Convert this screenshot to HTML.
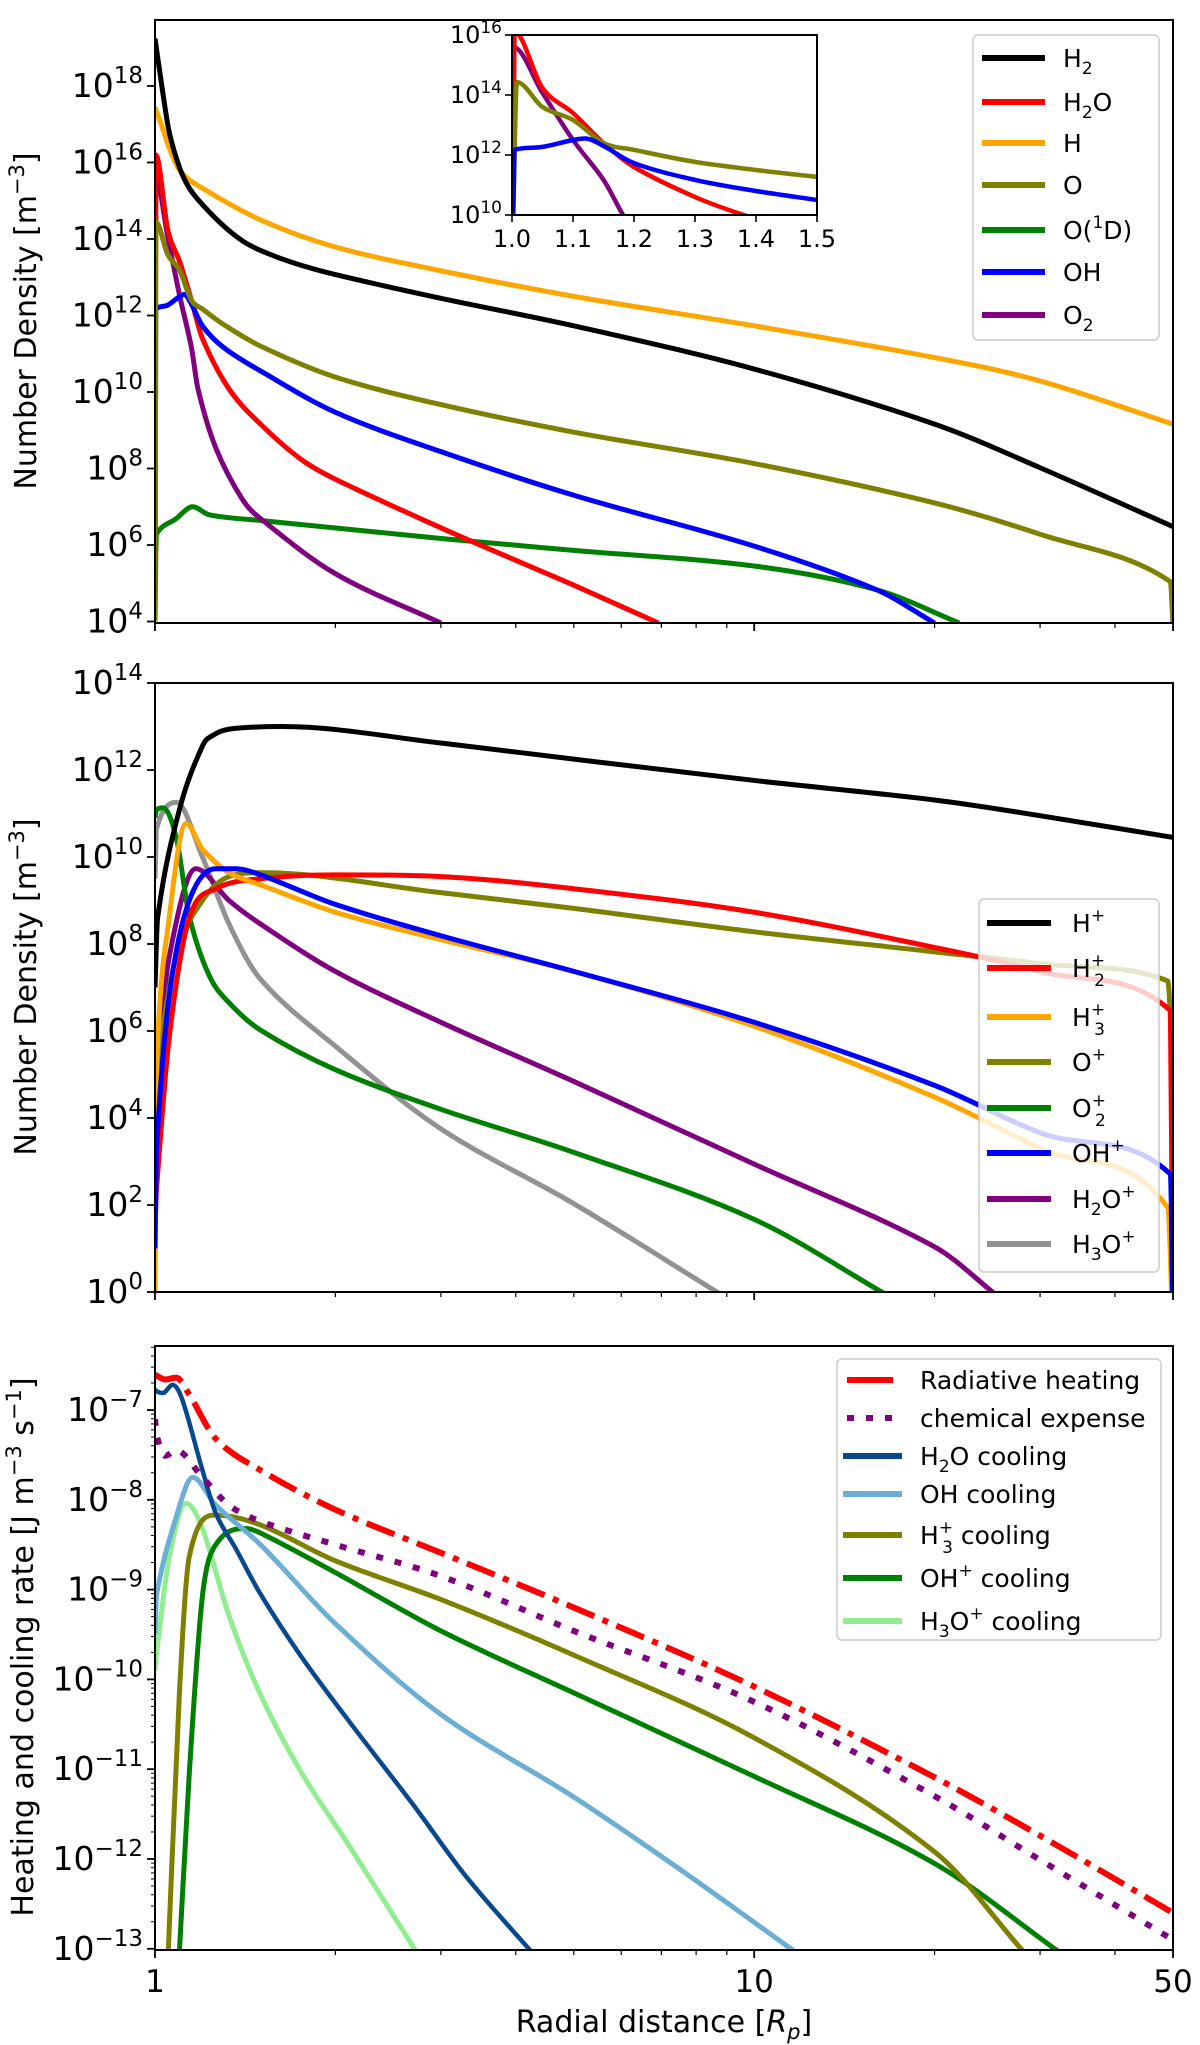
<!DOCTYPE html>
<html><head><meta charset="utf-8"><style>
html,body{margin:0;padding:0;background:#fff;}
svg{display:block;font-family:"DejaVu Sans","Liberation Sans",sans-serif;}
</style></head><body>
<svg id="fig" width="1200" height="2045" viewBox="0 0 1200 2045" xmlns="http://www.w3.org/2000/svg">
<defs>
<clipPath id="c1"><rect x="155" y="20" width="1018" height="603"/></clipPath>
<clipPath id="c2"><rect x="155" y="683" width="1018" height="609"/></clipPath>
<clipPath id="c3"><rect x="155" y="1346" width="1018" height="604"/></clipPath>
<clipPath id="ci"><rect x="512" y="35" width="305" height="180"/></clipPath>
</defs>
<g id="g1"></g>
<g id="g2"></g>
<g id="g3"></g>
</svg>
<script>
// ---------- Panel 1: neutral species (log10 number density, m^-3) ----------
const rH2 = [1,1.031,1.057,1.1,1.141,1.2,1.3,1.4,1.5,1.7,2,3,5,10,20,30,50];
const logH2 = [19.24,17.8,16.77,15.85,15.33,14.9,14.35,13.95,13.7,13.38,13.07,12.45,11.73,10.6,9.16,8.02,6.48];
const rH = [1,1.031,1.057,1.1,1.17,1.5,2,3,5,10,20,30,50];
const logH = [17.44,16.87,16.36,15.79,15.43,14.5,13.79,13.17,12.5,11.73,10.9,10.29,9.16];
const rH2O = [1,1.003,1.05,1.1,1.15,1.2,1.329,1.5,1.756,2,3,4,5,6.92];
const logH2O = [4,16.2,14.25,13.4,12.4,11.4,10.08,9.16,8.23,7.72,6.45,5.6,4.95,3.96];
const rO = [1,1.003,1.05,1.1,1.15,1.2,1.3,1.5,2,3,5,10,20,30,49.5,50];
const logO = [4,14.45,13.6,13.17,12.4,12.17,11.77,11.2,10.39,9.67,8.95,8.13,7.1,6.28,5.04,3.9];
const rO1D = [1,1.003,1.005,1.085,1.156,1.231,1.5,3,5,10,16,22];
const logO1D = [4,5.8,6.28,6.69,7.0,6.79,6.64,6.17,5.86,5.45,4.83,3.96];
const rOH = [1,1.003,1.05,1.1,1.12,1.15,1.2,1.3,1.5,2,3,5,10,16,20];
const logOH = [4,12.17,12.27,12.5,12.55,12.3,11.73,11.17,10.55,9.47,8.44,7.3,5.97,4.83,3.96];
const rO2 = [1,1.003,1.05,1.1,1.15,1.18,1.263,1.398,1.5,2,3];
const logO2 = [4,15.6,14.07,12.5,11.17,10.07,8.54,7.2,6.69,5.25,3.96];
// inset (1.0 - 1.5)
const rInO = [1.002,1.008,1.05,1.1,1.15,1.2,1.3,1.4,1.5];
const logInO = [10,14.43,13.6,13.17,12.4,12.17,11.77,11.5,11.27];
const rInH2O = [1.002,1.004,1.05,1.1,1.15,1.2,1.3,1.38,1.45];
const logInH2O = [10,16.1,14.23,13.4,12.4,11.6,10.6,10.0,9.6];
const rInOH = [1.002,1.004,1.05,1.1,1.12,1.15,1.2,1.3,1.4,1.5];
const logInOH = [10,12.17,12.27,12.5,12.55,12.3,11.73,11.17,10.8,10.5];
const rInO2 = [1.001,1.002,1.05,1.1,1.15,1.18,1.2];
const logInO2 = [9,15.6,14.07,12.5,11.17,10.07,9.4];
// ---------- Panel 2: ions ----------
const rHp = [1,1.01,1.098,1.2,1.25,1.33,1.63,3,5,10,20,30,50];
const logHp = [7.0,8.6,11.08,12.55,12.8,12.94,13.0,12.62,12.25,11.76,11.31,10.95,10.45];
const rH2p = [1,1.005,1.057,1.141,1.263,1.5,2,3,5,10,20,30,49.5,50];
const logH2p = [1.5,2.3,5.9,8.6,9.27,9.5,9.59,9.55,9.27,8.73,7.92,7.37,6.47,-1];
const rH3p = [1,1.005,1.057,1.127,1.2,1.329,1.5,2,3,5,10,20,30,49,50];
const logH3p = [0,5.0,8.64,10.77,10.18,9.64,9.36,8.73,8.1,7.37,6.11,4.48,3.3,1.94,-1];
const rOp = [1,1.005,1.085,1.2,1.329,1.5,3,5,10,20,30,49,50];
const logOp = [4,5.0,7.73,9.0,9.55,9.64,9.18,8.82,8.28,7.82,7.55,7.15,4.93];
const rO2p = [1,1.005,1.031,1.085,1.141,1.231,1.329,1.5,2,3,5,10,16.8];
const logO2p = [10.9,11.08,11.13,10.45,8.64,7.28,6.65,6.02,5.11,4.2,3.21,1.67,-0.1];
const rOHp = [1,1.005,1.057,1.141,1.263,1.363,1.5,2,3,5,10,20,30,49.5,50];
const logOHp = [1,3.2,6.83,9.0,9.73,9.73,9.59,8.91,8.19,7.37,6.2,4.75,3.66,2.71,-1];
const rH2Op = [1,1.005,1.057,1.17,1.329,1.5,2,3,5,10,20,25.5];
const logH2Op = [4,5.02,7.73,9.73,9.0,8.46,7.37,6.2,4.84,2.94,1.04,-0.1];
const rH3Op = [1,1.005,1.085,1.2,1.329,1.5,2,3,5,8.9];
const logH3Op = [9.5,10.63,11.26,10.0,8.46,7.19,5.65,3.75,2.03,-0.1];
// ---------- Panel 3: heating / cooling (log10 J m^-3 s^-1) ----------
const rRad = [1,1.005,1.04,1.085,1.141,1.263,1.5,2,3,5,10,20,30,50];
const logRad = [-6.6,-6.615,-6.66,-6.64,-6.83,-7.32,-7.67,-8.11,-8.59,-9.2,-10.08,-11.09,-11.74,-12.6];
const rChem = [1,1.005,1.04,1.085,1.2,1.329,1.5,2,3,5,10,20,30,50];
const logChem = [-7.1,-7.27,-7.51,-7.45,-7.75,-8.06,-8.24,-8.5,-8.85,-9.46,-10.25,-11.3,-12.01,-12.9];
const rCH2O = [1,1.005,1.031,1.07,1.11,1.2,1.263,1.363,1.5,1.756,2.099,2.7,3.31,4.27];
const logCH2O = [-6.77,-6.79,-6.81,-6.72,-6.88,-7.67,-8.15,-8.54,-9.05,-9.75,-10.45,-11.4,-12.2,-13.05];
const rCOH = [1,1.005,1.085,1.156,1.263,1.5,2,3,5,7.46,11.8];
const logCOH = [-9.5,-9.07,-8.19,-7.75,-8.06,-8.5,-9.38,-10.39,-11.31,-12.1,-13.05];
const rCH3p = [1.052,1.098,1.141,1.263,1.5,2,3,5,10,20,28.3];
const logCH3p = [-13.05,-10.17,-8.63,-8.17,-8.28,-8.68,-9.11,-9.73,-10.65,-11.92,-13.05];
const rCOHp = [1.098,1.141,1.2,1.263,1.416,1.5,2,3,5,10,20,32.5];
const logCOHp = [-13.05,-11.04,-9.07,-8.5,-8.32,-8.37,-8.81,-9.46,-10.15,-11.08,-12.05,-13.05];
const rCH3Op = [1,1.005,1.057,1.127,1.2,1.329,1.5,1.756,2.099,2.74];
const logCH3Op = [-9.9,-9.73,-8.63,-8.04,-8.32,-9.29,-10.17,-11.04,-11.83,-13.05];
// tick values
const p1Ticks = [4,6,8,10,12,14,16,18];
const p2Ticks = [0,2,4,6,8,10,12,14];
const p3Ticks = [-13,-12,-11,-10,-9,-8,-7];
const insetYTicks = [10,12,14,16];
const insetXTicks = [1.0,1.1,1.2,1.3,1.4,1.5];
const xMajor = [1,10,50];
const xMinor = [2,3,4,5,6,7,8,9,20,30,40];

const NS = "http://www.w3.org/2000/svg";
const X0 = 155, X1 = 1173;
function xOf(r){ return X0 + Math.log10(r)/Math.log10(50)*(X1-X0); }
function y1(v){ return 86 + (18-v)*38.25; }
function y2(v){ return 683 + (14-v)*43.5; }
function y3(v){ return 1410 + (-7-v)*89.8; }
function xIn(r){ return 512 + (r-1)*610; }
function yIn(v){ return 35 + (16-v)*30; }

function mk(parent, tag, attrs){
  const e = document.createElementNS(NS, tag);
  for (const k in attrs) e.setAttribute(k, attrs[k]);
  parent.appendChild(e);
  return e;
}
function pathD(xs, ys){
  const n = xs.length;
  if (n < 2) return "";
  const d = [], m = new Array(n);
  for (let i=0;i<n-1;i++){ const h = xs[i+1]-xs[i]; d.push(h<=0?0:(ys[i+1]-ys[i])/h); }
  m[0]=d[0]; m[n-1]=d[n-2];
  for (let i=1;i<n-1;i++){
    if (d[i-1]*d[i] <= 0){ m[i]=0; continue; }
    const hx = xs[i+1]-xs[i-1];
    let t = hx>0 ? (ys[i+1]-ys[i-1])/hx : d[i];
    const lim = 3*Math.min(Math.abs(d[i-1]),Math.abs(d[i]));
    if (Math.abs(t) > lim) t = Math.sign(t)*lim;
    m[i] = t;
  }
  let s = "M"+xs[0].toFixed(2)+","+ys[0].toFixed(2);
  for (let i=0;i<n-1;i++){
    const h = xs[i+1]-xs[i];
    if (h < 1.5){ s += "L"+xs[i+1].toFixed(2)+","+ys[i+1].toFixed(2); continue; }
    const c1x = xs[i]+h/3, c1y = ys[i]+m[i]*h/3, c2x = xs[i+1]-h/3, c2y = ys[i+1]-m[i+1]*h/3;
    s += "C"+c1x.toFixed(2)+","+c1y.toFixed(2)+" "+c2x.toFixed(2)+","+c2y.toFixed(2)+" "+xs[i+1].toFixed(2)+","+ys[i+1].toFixed(2);
  }
  return s;
}
function series(g, rs, vs, fx, fy, color, w, name, dash){
  const p = mk(g, "path", {d: pathD(rs.map(fx), vs.map(fy)), fill:"none", stroke:color, "stroke-width":w, "stroke-linejoin":"round"});
  if (dash) p.setAttribute("stroke-dasharray", dash);
  
  
  return p;
}
function richText(t, parts, small){
  parts.forEach(p=>{
    if (typeof p === "string"){ const s = mk(t, "tspan", {}); s.textContent = p; }
    else {
      const a = {"font-size":small, "baseline-shift":p.s};
      if (p.dx) a.dx = p.dx;
      const s = mk(t, "tspan", a); s.textContent = p.t;
    }
  });
}
function powLabel(g, x, y, exp, size, name){
  const t = mk(g, "text", {x:x, y:y, "text-anchor":"end", "font-size":size, fill:"#000"});
  richText(t, ["10", {t:(exp<0?"\u2212"+(-exp):String(exp)), s:Math.round(size*0.42)}], Math.round(size*0.7));
  
  
  return t;
}
function frame(g, top, bottom, name){
  const r = mk(g, "rect", {x:X0, y:top, width:X1-X0, height:bottom-top, fill:"none", stroke:"#000", "stroke-width":2});
  
  
}
function xTicks(g, bottom, labels){
  xMajor.forEach(v=>{
    const x = xOf(v);
    const l = mk(g, "line", {x1:x, x2:x, y1:bottom, y2:bottom+8, stroke:"#000", "stroke-width":1.8});
    
    
    if (labels){
      const t = mk(g, "text", {x:x, y:bottom+42, "text-anchor":"middle", "font-size":31});
      t.textContent = String(v);
      
      
    }
  });
  xMinor.forEach(v=>{
    const x = xOf(v);
    const l = mk(g, "line", {x1:x, x2:x, y1:bottom, y2:bottom+5, stroke:"#000", "stroke-width":1.2});
    
    
  });
}
function yTicks(g, ticks, fy, minor, lo, hi){
  ticks.forEach(v=>{
    const y = fy(v);
    const l = mk(g, "line", {x1:X0-8, x2:X0, y1:y, y2:y, stroke:"#000", "stroke-width":1.8});
    
    
    powLabel(g, X0-12, y+11, v, 33, 'y-tick-label');
  });
  if (minor){
    for (let e=Math.floor(lo); e<hi; e++){
      for (let k=2;k<=9;k++){
        const v = e+Math.log10(k);
        if (v<lo||v>hi) continue;
        const y = fy(v);
        const l = mk(g, "line", {x1:X0-4, x2:X0, y1:y, y2:y, stroke:"#000", "stroke-width":1});
        
        
      }
    }
  }
}
function yLabel(g, cx, cy, parts, name){
  const t = mk(g, "text", {x:0, y:0, "text-anchor":"middle", "font-size":30, transform:"translate("+cx+","+cy+") rotate(-90)"});
  richText(t, parts, 21);
  
  
}
function legend(g, box, items, name){
  const lg = mk(g, "g", {});
  
  
  mk(lg, "rect", {x:box[0], y:box[1], width:box[2]-box[0], height:box[3]-box[1], rx:5, fill:"#fff", "fill-opacity":0.8, stroke:"#cccccc", "stroke-width":1.5});
  items.forEach(it=>{
    const e = mk(lg, "g", {});
    
    
    const l = mk(e, "line", {x1:it.x1, x2:it.x2, y1:it.y, y2:it.y, stroke:it.c, "stroke-width":it.w||6});
    if (it.dash) l.setAttribute("stroke-dasharray", it.dash);
    const t = mk(e, "text", {x:it.tx, y:it.y+9, "font-size":25});
    richText(t, it.parts, 17);
  });
}
const SUP = 11, SUB = -7;

// ===== Panel 1 =====
const g1 = document.getElementById("g1");
const c1 = mk(g1, "g", {"clip-path":"url(#c1)"});


series(c1, rO1D, logO1D, xOf, y1, "#008000", 5, "line-o1d");
series(c1, rO2, logO2, xOf, y1, "#800080", 5, "line-o2");
series(c1, rH2O, logH2O, xOf, y1, "#ff0000", 5, "line-h2o");
series(c1, rOH, logOH, xOf, y1, "#0000ff", 5, "line-oh");
series(c1, rO, logO, xOf, y1, "#808000", 5, "line-o");
series(c1, rH, logH, xOf, y1, "#ffa500", 5, "line-h");
series(c1, rH2, logH2, xOf, y1, "#000000", 5, "line-h2");
frame(g1, 20, 623, "panel1-frame");
yTicks(g1, p1Ticks, y1, false);
xTicks(g1, 623, false);
yLabel(g1, 36, 321, ["Number Density [m", {t:"\u22123", s:12}, "]"], "y-axis-title-1");
// inset
const gi = mk(g1, "g", {});


mk(gi, "rect", {x:512, y:35, width:305, height:180, fill:"#fff"});
const ci = mk(gi, "g", {"clip-path":"url(#ci)"});
series(ci, rInO2, logInO2, xIn, yIn, "#800080", 4.5, "inset-line-o2");
series(ci, rInH2O, logInH2O, xIn, yIn, "#ff0000", 4.5, "inset-line-h2o");
series(ci, rInO, logInO, xIn, yIn, "#808000", 4.5, "inset-line-o");
series(ci, rInOH, logInOH, xIn, yIn, "#0000ff", 4.5, "inset-line-oh");
mk(gi, "rect", {x:512, y:35, width:305, height:180, fill:"none", stroke:"#000", "stroke-width":2});
insetYTicks.forEach(v=>{
  const y = yIn(v);
  const l = mk(gi, "line", {x1:505, x2:512, y1:y, y2:y, stroke:"#000", "stroke-width":1.6});
  
  
  powLabel(gi, 502, y+8, v, 24, 'inset-y-tick-label');
});
insetXTicks.forEach(v=>{
  const x = xIn(v);
  const l = mk(gi, "line", {x1:x, x2:x, y1:215, y2:222, stroke:"#000", "stroke-width":1.6});
  
  
  const t = mk(gi, "text", {x:x, y:247, "text-anchor":"middle", "font-size":24});
  t.textContent = v.toFixed(1);
  
  
});
const L1y = [58,102,143,185,230,272,315];
legend(g1, [973,35,1159,340], [
  {c:"#000000", parts:["H",{t:"2",s:SUB}], y:L1y[0]},
  {c:"#ff0000", parts:["H",{t:"2",s:SUB},"O"], y:L1y[1]},
  {c:"#ffa500", parts:["H"], y:L1y[2]},
  {c:"#808000", parts:["O"], y:L1y[3]},
  {c:"#008000", parts:["O(",{t:"1",s:SUP},"D)"], y:L1y[4]},
  {c:"#0000ff", parts:["OH"], y:L1y[5]},
  {c:"#800080", parts:["O",{t:"2",s:SUB}], y:L1y[6]}
].map(o=>Object.assign(o,{x1:982,x2:1045,tx:1063})), "legend-neutrals");

// ===== Panel 2 =====
const g2 = document.getElementById("g2");
const c2 = mk(g2, "g", {"clip-path":"url(#c2)"});


series(c2, rH3Op, logH3Op, xOf, y2, "#929292", 5, "line-h3o-plus");
series(c2, rH2Op, logH2Op, xOf, y2, "#800080", 5, "line-h2o-plus");
series(c2, rO2p, logO2p, xOf, y2, "#008000", 5, "line-o2-plus");
series(c2, rOp, logOp, xOf, y2, "#808000", 5, "line-o-plus");
series(c2, rH2p, logH2p, xOf, y2, "#ff0000", 5, "line-h2-plus");
series(c2, rH3p, logH3p, xOf, y2, "#ffa500", 5, "line-h3-plus");
series(c2, rOHp, logOHp, xOf, y2, "#0000ff", 5, "line-oh-plus");
series(c2, rHp, logHp, xOf, y2, "#000000", 5, "line-h-plus");
frame(g2, 683, 1292, "panel2-frame");
yTicks(g2, p2Ticks, y2, false);
xTicks(g2, 1292, false);
yLabel(g2, 36, 987, ["Number Density [m", {t:"\u22123", s:12}, "]"], "y-axis-title-2");
const L2y = [923,968,1017,1062,1108,1153,1199,1244];
legend(g2, [979,899,1159,1272], [
  {c:"#000000", parts:["H",{t:"+",s:SUP}], y:L2y[0]},
  {c:"#ff0000", parts:["H",{t:"+",s:SUP},{t:"2",s:-9,dx:-11}], y:L2y[1]},
  {c:"#ffa500", parts:["H",{t:"+",s:SUP},{t:"3",s:-9,dx:-11}], y:L2y[2]},
  {c:"#808000", parts:["O",{t:"+",s:SUP}], y:L2y[3]},
  {c:"#008000", parts:["O",{t:"+",s:SUP},{t:"2",s:-9,dx:-11}], y:L2y[4]},
  {c:"#0000ff", parts:["OH",{t:"+",s:SUP}], y:L2y[5]},
  {c:"#800080", parts:["H",{t:"2",s:SUB},"O",{t:"+",s:SUP}], y:L2y[6]},
  {c:"#929292", parts:["H",{t:"3",s:SUB},"O",{t:"+",s:SUP}], y:L2y[7]}
].map(o=>Object.assign(o,{x1:987,x2:1051,tx:1072})), "legend-ions");

// ===== Panel 3 =====
const g3 = document.getElementById("g3");
const c3 = mk(g3, "g", {"clip-path":"url(#c3)"});


series(c3, rCH3Op, logCH3Op, xOf, y3, "#90ee90", 5, "line-h3o-plus-cooling");
series(c3, rCOHp, logCOHp, xOf, y3, "#008000", 5, "line-oh-plus-cooling");
series(c3, rCH3p, logCH3p, xOf, y3, "#808000", 5, "line-h3-plus-cooling");
series(c3, rCOH, logCOH, xOf, y3, "#6baed6", 5, "line-oh-cooling");
series(c3, rCH2O, logCH2O, xOf, y3, "#08488e", 4.5, "line-h2o-cooling");
series(c3, rChem, logChem, xOf, y3, "#800080", 6, "line-chemical-expense", "7,12");
series(c3, rRad, logRad, xOf, y3, "#ff0000", 6, "line-radiative-heating", "30,9,6,9");
frame(g3, 1346, 1950, "panel3-frame");
yTicks(g3, p3Ticks, y3, true, -13, -6.29);
xTicks(g3, 1950, true);
yLabel(g3, 33, 1647, ["Heating and cooling rate [J m", {t:"\u22123", s:12}, " s", {t:"\u22121", s:12}, "]"], "y-axis-title-3");
const xl = mk(g3, "text", {x:664, y:2032, "text-anchor":"middle", "font-size":30});
richText(xl, ["Radial distance ["], 21);
const xi = mk(xl, "tspan", {"font-style":"italic"}); xi.textContent = "R";
const xs = mk(xl, "tspan", {"font-size":21, "font-style":"italic", "baseline-shift":-7}); xs.textContent = "p";
const xe = mk(xl, "tspan", {}); xe.textContent = "]";


const L3y = [1380,1418,1456,1494,1535,1578,1621];
legend(g3, [837,1359,1161,1640], [
  {c:"#ff0000", parts:["Radiative heating"], y:L3y[0], x1:847, x2:893},
  {c:"#800080", parts:["chemical expense"], y:L3y[1], x1:847, x2:893, dash:"7,12"},
  {c:"#08488e", parts:["H",{t:"2",s:SUB},"O cooling"], y:L3y[2]},
  {c:"#6baed6", parts:["OH cooling"], y:L3y[3]},
  {c:"#808000", parts:["H",{t:"+",s:SUP},{t:"3",s:-9,dx:-11}," cooling"], y:L3y[4]},
  {c:"#008000", parts:["OH",{t:"+",s:SUP}," cooling"], y:L3y[5]},
  {c:"#90ee90", parts:["H",{t:"3",s:SUB},"O",{t:"+",s:SUP}," cooling"], y:L3y[6]}
].map(o=>Object.assign({x1:843,x2:902,tx:920},o)), "legend-heating-cooling");
</script>
</body></html>
